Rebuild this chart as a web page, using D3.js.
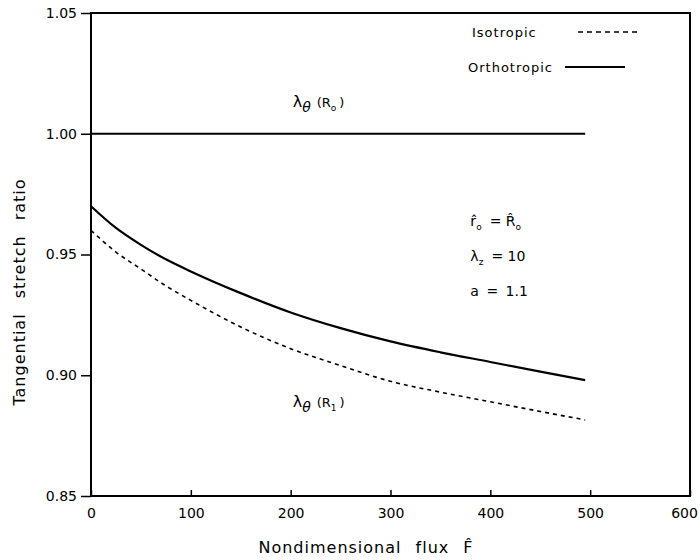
<!DOCTYPE html>
<body style="margin:0;background:#fff">
<script src="https://cdn.jsdelivr.net/npm/d3@7"></script>
<script>

  const width = 599,
        height = 483
  const margin = {left: 91, top: 13, right: 10, bottom: 64}
  const font = "DejaVu Sans"

  // values
  const flux = [0, 25, 50, 75, 100, 150, 200, 250, 300, 350, 400, 450, 495]
  const orthotropic = [0.970, 0.961, 0.954, 0.948, 0.943, 0.934, 0.926, 0.9195, 0.914, 0.9095, 0.9055, 0.9015, 0.898]
  const isotropic = [0.960, 0.951, 0.944, 0.937, 0.931, 0.920, 0.911, 0.904, 0.8975, 0.893, 0.889, 0.885, 0.8815]
  const outerFlux = [0, 495]
  const outer = [1.00, 1.00]
  const xTicks = [0, 100, 200, 300, 400, 500, 600]
  const yTicks = [0.85, 0.90, 0.95, 1.00, 1.05]

  const xScale = d3.scaleLinear().domain([0, 600]).range([0, width])
  const yScale = d3.scaleLinear().domain([0.85, 1.05]).range([height, 0])

  const svg = d3.select("body").append("svg")
      .attr("width", width + margin.left + margin.right)
      .attr("height", height + margin.top + margin.bottom)
      .style("font-family", font)

  const g = svg.append("g")
      .attr("transform", `translate(${margin.left}, ${margin.top})`)

  // frame
  g.append("rect")
    .attr("width", width).attr("height", height)
    .attr("fill", "none").attr("stroke", "#000").attr("stroke-width", 2)

  const xAxis = g.append("g")
    .attr("transform", `translate(0, ${height})`)
    .call(d3.axisBottom(xScale).tickValues(xTicks).tickSizeInner(-6).tickSizeOuter(0).tickFormat(d3.format("d")))
  xAxis.select(".domain").remove()
  xAxis.selectAll("line").attr("stroke-width", 1.5)
  xAxis.selectAll("text").attr("y", 12).style("font-size", "14px").style("font-family", font)
    .attr("dx", d => d === 600 ? -6 : 0)

  const yAxis = g.append("g")
    .call(d3.axisLeft(yScale).tickValues(yTicks).tickSizeInner(10).tickSizeOuter(0).tickFormat(d3.format(".2f")))
  yAxis.select(".domain").remove()
  yAxis.selectAll("line").attr("stroke-width", 1.5)
  yAxis.selectAll("text").attr("x", -14).style("font-size", "14px").style("font-family", font)

  const line = d3.line()
    .x(d => xScale(d[0]))
    .y(d => yScale(d[1]))
    .curve(d3.curveMonotoneX)

  g.append("path")
    .datum(d3.zip(outerFlux, outer))
    .attr("d", line).attr("fill", "none").attr("stroke", "#000").attr("stroke-width", 2)

  g.append("path")
    .datum(d3.zip(flux, orthotropic))
    .attr("d", line).attr("fill", "none").attr("stroke", "#000").attr("stroke-width", 2.2)

  g.append("path")
    .datum(d3.zip(flux, isotropic))
    .attr("d", line).attr("fill", "none").attr("stroke", "#000").attr("stroke-width", 1.6)
    .attr("stroke-dasharray", "4,4")

  // legend
  const legend = [{name: "Isotropic", dash: "5,4", w: 1.6, x: 381, lx: [487, 546]},
                  {name: "Orthotropic", dash: null, w: 2, x: 377, lx: [474, 534]}]
  legend.forEach((d, i) => {
    const y = 19 + i * 35
    g.append("text").attr("x", d.x).attr("y", y + 5)
      .style("font-size", "13px").style("letter-spacing", "1px").text(d.name)
    g.append("line").attr("x1", d.lx[0]).attr("x2", d.lx[1]).attr("y1", y).attr("y2", y)
      .attr("stroke", "#000").attr("stroke-width", d.w).attr("stroke-dasharray", d.dash)
  })

  // annotations
  function lambda(x, y, sub) {
    const t = g.append("text").attr("x", xScale(x)).attr("y", yScale(y)).style("font-size", "16px")
    t.append("tspan").text("\u03bb")
    t.append("tspan").attr("dy", 5).style("font-size", "14px").style("font-style", "italic").text("\u03b8")
    t.append("tspan").attr("dy", -5).attr("dx", 6).style("font-size", "13px").text("(R")
    t.append("tspan").attr("dy", 4).style("font-size", "9px").text(sub)
    t.append("tspan").attr("dy", -4).attr("dx", 3).style("font-size", "13px").text(")")
  }
  lambda(202, 1.011, "o")
  lambda(202, 0.887, "1")

  const r = g.append("text").attr("x", xScale(380)).attr("y", yScale(0.962)).style("font-size", "14px")
  r.append("tspan").text("r\u0302")
  r.append("tspan").attr("dy", 4).style("font-size", "9px").text("o")
  r.append("tspan").attr("dy", -4).attr("dx", 8).text("= R\u0302")
  r.append("tspan").attr("dy", 4).style("font-size", "9px").text("o")

  const lz = g.append("text").attr("x", xScale(380)).attr("y", yScale(0.9475)).style("font-size", "14px")
  lz.append("tspan").text("\u03bb")
  lz.append("tspan").attr("dy", 4).style("font-size", "9px").text("z")
  lz.append("tspan").attr("dy", -4).attr("dx", 8).text("= 10")

  g.append("text").attr("x", xScale(380)).attr("y", yScale(0.933)).style("font-size", "14px")
    .style("word-spacing", "3px").text("a = 1.1")

  // axis titles
  svg.append("text")
    .attr("transform", `translate(25, 292) rotate(-90)`)
    .style("text-anchor", "middle").style("font-size", "16px")
    .style("letter-spacing", "1px").style("word-spacing", "9px")
    .text("Tangential stretch ratio")

  svg.append("text")
    .attr("x", 366).attr("y", 553)
    .style("text-anchor", "middle").style("font-size", "16px")
    .style("letter-spacing", "1px").style("word-spacing", "8px")
    .text("Nondimensional flux F\u0302")

</script>
</body>
